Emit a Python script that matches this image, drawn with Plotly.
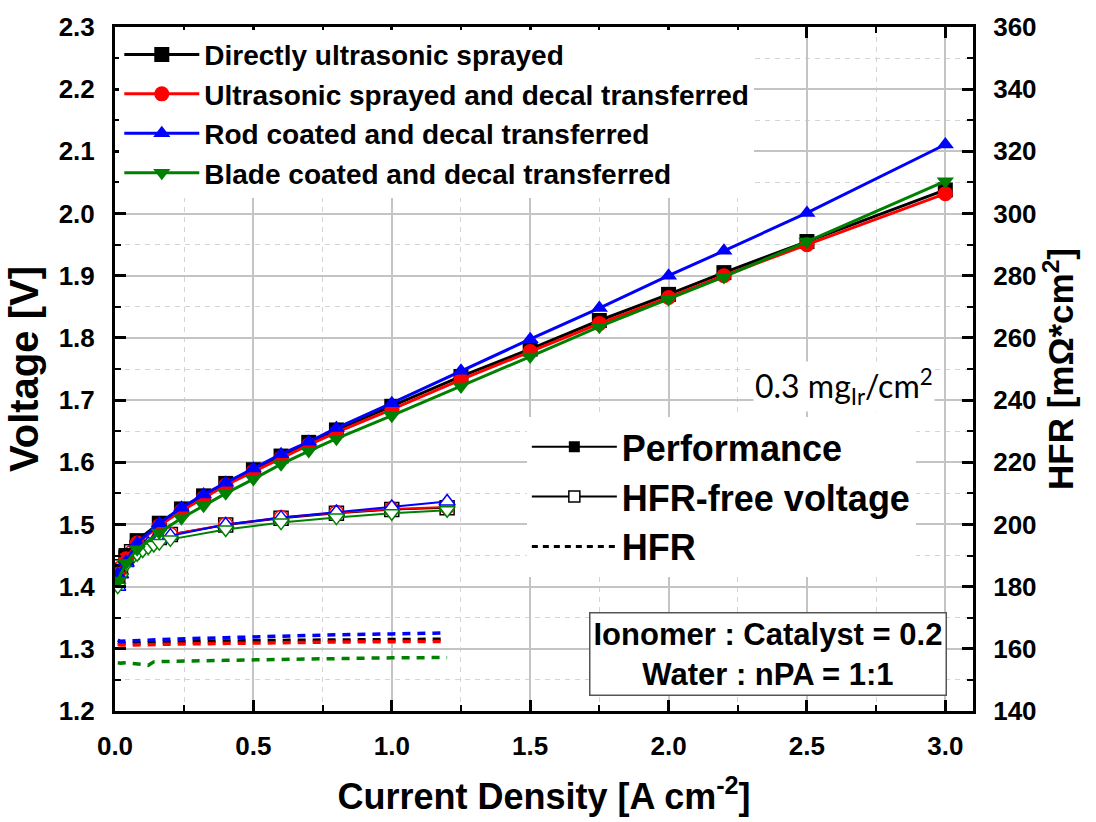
import plotly.graph_objects as go

# ---------------- data ----------------
perf_x = [0.01, 0.04, 0.08, 0.16, 0.24, 0.32, 0.4, 0.5, 0.6, 0.7, 0.8, 1.0, 1.25, 1.5, 1.75, 2.0, 2.2, 2.5, 3.0]
perf_black = [1.425, 1.45, 1.474, 1.502, 1.525, 1.546, 1.566, 1.588, 1.61, 1.632, 1.652, 1.69, 1.738, 1.782, 1.828, 1.87, 1.905, 1.955, 2.038]
perf_red = [1.42, 1.445, 1.47, 1.498, 1.522, 1.543, 1.563, 1.585, 1.607, 1.628, 1.648, 1.685, 1.733, 1.778, 1.823, 1.865, 1.9, 1.95, 2.032]
perf_blue = [1.42, 1.44, 1.47, 1.502, 1.527, 1.548, 1.567, 1.59, 1.613, 1.633, 1.655, 1.695, 1.747, 1.798, 1.848, 1.9, 1.94, 2.001, 2.111]
perf_green = [1.41, 1.438, 1.46, 1.487, 1.51, 1.53, 1.55, 1.573, 1.597, 1.618, 1.638, 1.675, 1.722, 1.77, 1.818, 1.862, 1.898, 1.955, 2.052]

free_x = [0.01, 0.02, 0.04, 0.06, 0.08, 0.10, 0.12, 0.14, 0.16, 0.2, 0.4, 0.6, 0.8, 1.0, 1.2]
free_black = [1.418, 1.432, 1.447, 1.456, 1.463, 1.468, 1.472, 1.476, 1.479, 1.484, 1.499, 1.51, 1.518, 1.524, 1.527]
free_red = [1.415, 1.43, 1.445, 1.455, 1.462, 1.468, 1.472, 1.476, 1.479, 1.484, 1.500, 1.511, 1.519, 1.525, 1.528]
free_blue = [1.40, 1.42, 1.438, 1.45, 1.458, 1.464, 1.469, 1.473, 1.477, 1.482, 1.50, 1.511, 1.52, 1.528, 1.537]
free_green = [1.40, 1.415, 1.435, 1.445, 1.452, 1.458, 1.463, 1.467, 1.47, 1.476, 1.492, 1.503, 1.511, 1.518, 1.523]

hfr_x = free_x
hfr_black = [162.0, 161.8, 161.8, 161.8, 161.9, 161.9, 162.0, 162.0, 162.1, 162.2, 162.5, 162.7, 162.9, 163.0, 163.1]
hfr_red = [161.4, 161.2, 161.2, 161.2, 161.3, 161.3, 161.3, 161.4, 161.4, 161.5, 161.8, 162.0, 162.2, 162.3, 162.4]
hfr_blue = [162.8, 162.4, 162.5, 162.6, 162.6, 162.7, 162.8, 162.9, 163.0, 163.1, 163.6, 164.1, 164.5, 164.8, 165.1]
hfr_green = [155.5, 155.4, 155.5, 155.4, 155.3, 155.0, 154.7, 155.8, 155.9, 156.0, 156.3, 156.6, 156.9, 157.1, 157.2]

series_names = ["Directly ultrasonic sprayed", "Ultrasonic sprayed and decal transferred",
                "Rod coated and decal transferred", "Blade coated and decal transferred"]
colors = ["#000000", "#ff0000", "#0000ff", "#008000"]
symbols = ["square", "circle", "triangle-up", "triangle-down"]
perf_all = [perf_black, perf_red, perf_blue, perf_green]
free_all = [free_black, free_red, free_blue, free_green]
hfr_all = [hfr_black, hfr_red, hfr_blue, hfr_green]

FONT = "Liberation Sans, Arial, sans-serif"

fig = go.Figure()

# HFR (right axis), dashed
for c, h in zip(colors, hfr_all):
    fig.add_trace(go.Scatter(x=hfr_x, y=h, yaxis="y2", mode="lines",
                             line=dict(color=c, width=3.5, dash="8px,7px"),
                             showlegend=False, hoverinfo="skip"))

# HFR-free voltage (open markers)
for c, s, v in zip(colors, symbols, free_all):
    fig.add_trace(go.Scatter(x=free_x, y=v, mode="lines+markers",
                             line=dict(color=c, width=2),
                             marker=dict(symbol=s, size=14, color="white",
                                         line=dict(color=c, width=1.5)),
                             showlegend=False))

# Performance (filled markers)
for n, c, s, v in zip(series_names, colors, symbols, perf_all):
    fig.add_trace(go.Scatter(x=perf_x, y=v, mode="lines+markers", name=n,
                             line=dict(color=c, width=3),
                             marker=dict(symbol=s, size=15, color=c),
                             legend="legend"))

# second legend (style key)
fig.add_trace(go.Scatter(x=[None], y=[None], mode="lines+markers", name="Performance",
                         line=dict(color="black", width=2),
                         marker=dict(symbol="square", size=11, color="black"),
                         legend="legend2"))
fig.add_trace(go.Scatter(x=[None], y=[None], mode="lines+markers", name="HFR-free voltage",
                         line=dict(color="black", width=2),
                         marker=dict(symbol="square", size=11, color="white",
                                     line=dict(color="black", width=1.5)),
                         legend="legend2"))
fig.add_trace(go.Scatter(x=[None], y=[None], mode="lines", name="HFR",
                         line=dict(color="black", width=3, dash="6px,5px"),
                         legend="legend2"))

tickfont = dict(family=FONT, size=26, color="black", weight="bold")

fig.update_layout(
    width=1096, height=822,
    margin=dict(l=115, r=123, t=25, b=109),
    paper_bgcolor="white", plot_bgcolor="white",
    xaxis=dict(range=[0, 3.1], dtick=0.5, tick0=0, tickformat=".1f",
               showline=True, linecolor="black", linewidth=3, mirror="ticks",
               ticks="inside", ticklen=11, tickwidth=2.5, tickcolor="black",
               showgrid=True, gridcolor="#c4c4c4", gridwidth=1.5,
               minor=dict(dtick=0.25, ticks="inside", ticklen=6, tickwidth=2, tickcolor="black",
                          showgrid=True, gridcolor="#d4d4d4", griddash="5px,5px", gridwidth=1.2),
               tickfont=tickfont, ticklabelstandoff=10, zeroline=False,
               title=dict(text="Current Density [A cm<sup>-2</sup>]",
                          font=dict(family=FONT, size=36, color="black", weight="bold"), standoff=24)),
    yaxis=dict(range=[1.2, 2.3], dtick=0.1, tick0=1.2, tickformat=".1f",
               showline=True, linecolor="black", linewidth=3,
               ticks="inside", ticklen=11, tickwidth=2.5, tickcolor="black",
               showgrid=True, gridcolor="#c4c4c4", gridwidth=1.5,
               minor=dict(dtick=0.05, ticks="inside", ticklen=6, tickwidth=2, tickcolor="black",
                          showgrid=True, gridcolor="#d4d4d4", griddash="5px,5px", gridwidth=1.2),
               tickfont=tickfont, ticklabelstandoff=12, zeroline=False,
               title=dict(text="Voltage [V]",
                          font=dict(family=FONT, size=40, color="black", weight="bold"), standoff=8)),
    yaxis2=dict(range=[140, 360], dtick=20, tick0=140, overlaying="y", side="right",
                showline=True, linecolor="black", linewidth=3,
                ticks="inside", ticklen=11, tickwidth=2.5, tickcolor="black",
                minor=dict(dtick=10, ticks="inside", ticklen=6, tickwidth=2, tickcolor="black"),
                showgrid=False, zeroline=False,
                tickfont=tickfont, ticklabelstandoff=12,
                title=dict(text="HFR [m\u03a9*cm<sup>2</sup>]",
                           font=dict(family=FONT, size=35, color="black", weight="bold"), standoff=10)),
    legend=dict(x=0.005, y=0.996, xanchor="left", yanchor="top",
                bgcolor="white", borderwidth=0, itemwidth=75,
                font=dict(family=FONT, size=28, color="black", weight="bold"),
                tracegroupgap=0),
    legend2=dict(x=0.48, y=0.43, xanchor="left", yanchor="top",
                 bgcolor="white", borderwidth=0, itemwidth=85,
                 font=dict(family=FONT, size=36, color="black", weight="bold")),
    showlegend=True,
)

fig.add_annotation(xref="paper", yref="paper", x=0.85, y=0.474, xanchor="center", yanchor="middle",
                   text="0.3 mg<sub>Ir</sub>/cm<sup>2</sup>", showarrow=False,
                   font=dict(family="Lato, Open Sans, sans-serif", size=32, color="black"),
                   bgcolor="white")
fig.add_annotation(xref="paper", yref="paper", x=0.7605, y=0.083, xanchor="center", yanchor="middle",
                   text="Ionomer : Catalyst = 0.2<br>Water : nPA = 1:1", showarrow=False,
                   font=dict(family=FONT, size=31, color="black", weight="bold"),
                   bgcolor="white", bordercolor="#555555", borderwidth=1.5, borderpad=3)

fig.write_html("out.html")
